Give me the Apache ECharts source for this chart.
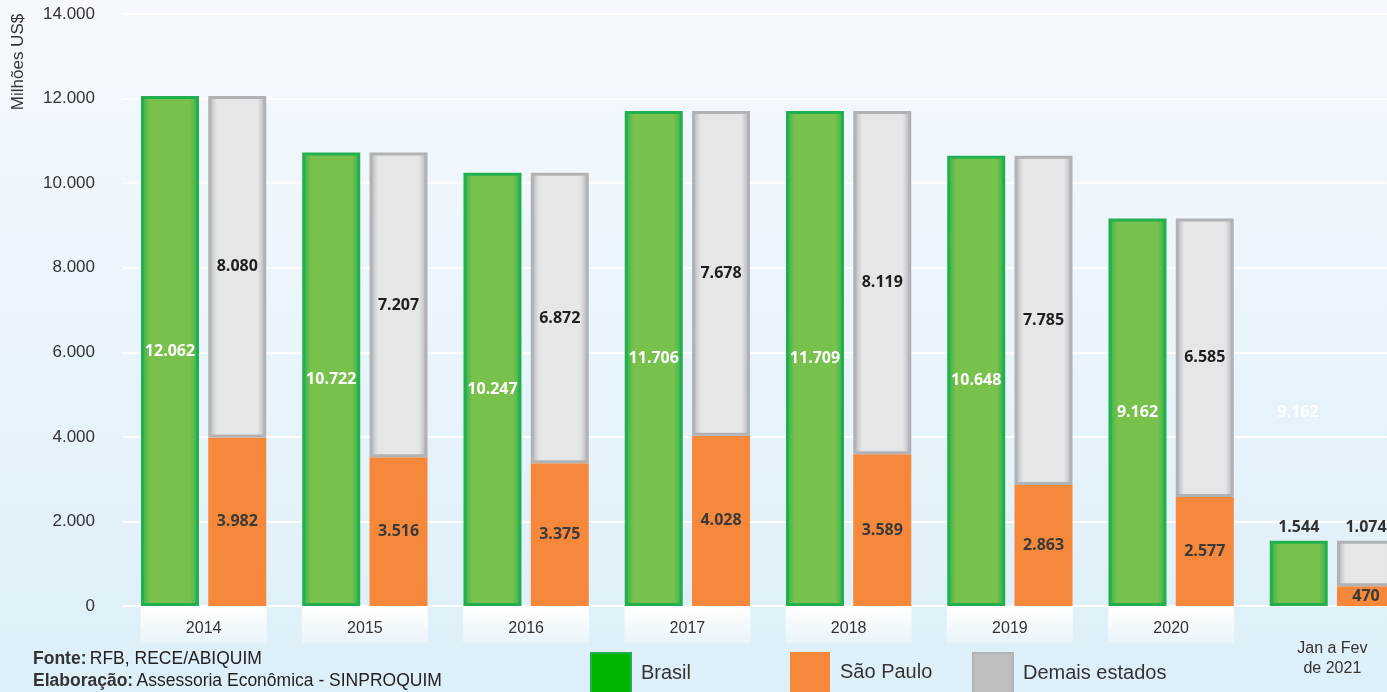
<!DOCTYPE html>
<html>
<head>
<meta charset="utf-8">
<script src="https://cdn.jsdelivr.net/npm/echarts@6/dist/echarts.min.js"></script>
<style>
  html,body{margin:0;padding:0;overflow:hidden}
  #chart{width:1413px;height:692px}
</style>
</head>
<body>
<div id="chart"></div>
<script>
const categories = ['2014','2015','2016','2017','2018','2019','2020','Jan a Fev\nde 2021']
const brasil = [12062, 10722, 10247, 11706, 11709, 10648, 9162, 1544]
const saoPaulo = [3982, 3516, 3375, 4028, 3589, 2863, 2577, 470]
const demais = [8080, 7207, 6872, 7678, 8119, 7785, 6585, 1074]
const yTicks = {min: 0, max: 14000, interval: 2000}

const fmt = (v) => String(v).replace(/\B(?=(\d{3})+(?!\d))/g, '.')
const last = categories.length - 1
const sans = 'Liberation Sans'
const lblFont = 'Open Sans'

let chartDom = document.getElementById('chart')
let myChart = echarts.init(chartDom)

const hGrad = (edge, mid, inner) => new echarts.graphic.LinearGradient(0, 0, 1, 0, [
  {offset: 0, color: edge}, {offset: 0.07, color: mid}, {offset: 0.15, color: inner},
  {offset: 0.85, color: inner}, {offset: 0.93, color: mid}, {offset: 1, color: edge}
])

let option = {
  backgroundColor: new echarts.graphic.LinearGradient(0, 0, 0, 1, [
    {offset: 0, color: '#f5f9fd'}, {offset: 1, color: '#ddeff9'}
  ]),
  animation: false,
  grid: {left: 123, right: 0, top: 14, bottom: 86},
  legend: [
    {data: [{name: 'Brasil', itemStyle: {color: '#00b400'}}], left: 590},
    {data: [{name: 'São Paulo', itemStyle: {color: '#f5883a'}}], left: 790},
    {data: [{name: 'Demais estados', itemStyle: {color: '#bdbebf'}}], left: 972}
  ].map(l => Object.assign(l, {
    top: 652, padding: 0, itemWidth: 40, itemHeight: 40, icon: 'rect', selectedMode: false,
    textStyle: {fontFamily: sans, fontSize: 20, color: '#333', padding: [0, 0, 0, 5]}
  })),
  xAxis: {
    type: 'category',
    data: categories.map((c, i) => i === last ? {
      value: c,
      textStyle: {backgroundColor: 'transparent', padding: [32, 0, 0, 0], lineHeight: 20}
    } : c),
    axisLine: {show: false},
    axisTick: {show: false},
    axisLabel: {
      interval: 0,
      margin: 1,
      width: 126,
      align: 'center',
      lineHeight: 18,
      padding: [13, 0, 5, 0],
      fontFamily: sans, fontSize: 16, color: '#333',
      backgroundColor: new echarts.graphic.LinearGradient(0, 0, 0, 1, [
        {offset: 0, color: 'rgba(255,255,255,1)'}, {offset: 1, color: 'rgba(255,255,255,0.3)'}
      ])
    }
  },
  yAxis: {
    type: 'value',
    min: yTicks.min,
    max: yTicks.max,
    interval: yTicks.interval,
    axisLine: {show: false},
    axisTick: {show: false},
    splitLine: {lineStyle: {color: '#ffffff', width: 2}},
    axisLabel: {
      margin: 28,
      fontFamily: sans, fontSize: 17, color: '#333',
      formatter: (v) => fmt(v)
    }
  },
  series: [
    {
      name: 'Brasil',
      type: 'bar',
      barWidth: 58,
      barGap: '16%',
      itemStyle: {
        color: hGrad('#19ae52', '#4fb94e', '#77c14c'),
        borderColor: '#22b04f', borderWidth: 3
      },
      label: {
        show: true, position: 'inside', formatter: (p) => fmt(p.value),
        fontFamily: lblFont, fontWeight: 'bold', fontSize: 16, color: '#ffffff'
      },
      data: brasil.map((v, i) => i === last ? {value: v, label: {position: 'top', color: '#333'}} : v)
    },
    {
      name: 'São Paulo',
      type: 'bar',
      stack: 'uf',
      barWidth: 58,
      itemStyle: {color: '#f5883a'},
      label: {
        show: true, position: 'inside', formatter: (p) => fmt(p.value),
        fontFamily: lblFont, fontWeight: 'bold', fontSize: 16, color: '#3a3a3a'
      },
      data: saoPaulo
    },
    {
      name: 'Demais estados',
      type: 'bar',
      stack: 'uf',
      barWidth: 58,
      itemStyle: {
        color: hGrad('#a9aaad', '#c9cacd', '#e5e6e8'),
        borderColor: '#b1b2b5', borderWidth: 3
      },
      label: {
        show: true, position: 'inside', formatter: (p) => fmt(p.value),
        fontFamily: lblFont, fontWeight: 'bold', fontSize: 16, color: '#1e1e1e'
      },
      data: demais.map((v, i) => i === last ? {value: v, label: {position: 'top', color: '#333'}} : v)
    }
  ],
  graphic: [
    {
      type: 'text', x: 18, y: 62, rotation: Math.PI / 2,
      style: {text: 'Milhões US$', font: '17px "Liberation Sans"', fill: '#333', align: 'center', verticalAlign: 'middle'}
    },
    {
      type: 'text', x: 1298, y: 412,
      style: {text: '9.162', font: 'bold 16px "Open Sans"', fill: '#ffffff', align: 'center', verticalAlign: 'middle'}
    },
    {
      type: 'text', left: 33, top: 650,
      style: {
        text: '{b|Fonte:} {n|RFB, RECE/ABIQUIM}\n{b|Elaboração:} {n|Assessoria Econômica - SINPROQUIM}',
        rich: {
          b: {fontFamily: sans, fontWeight: 'bold', fontSize: 17.5, fill: '#333', lineHeight: 22},
          n: {fontFamily: sans, fontSize: 17.5, fill: '#222', lineHeight: 22}
        }
      }
    }
  ]
}
myChart.setOption(option)
</script>
</body>
</html>
